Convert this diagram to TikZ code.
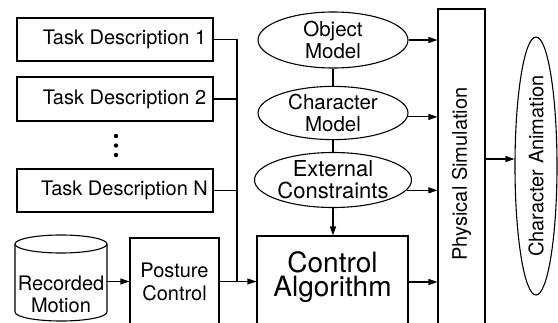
\documentclass[tikz,border=0pt]{standalone}
\usepackage{fontspec}
\setmainfont{TeX Gyre Heros}
\usetikzlibrary{arrows.meta,shapes.geometric}
\begin{document}
\begin{tikzpicture}[x=1pt,y=-1pt,line width=1.1pt,
  txt/.style={inner sep=0pt,align=center,font=\fontsize{20}{22}\selectfont},
  box/.style={draw,rectangle,inner sep=0pt,align=center,font=\fontsize{20}{22}\selectfont},
  oval/.style={draw,ellipse,inner sep=0pt,minimum width=150pt,minimum height=55pt,align=center,font=\fontsize{20.5}{22}\selectfont},
  arr/.style={-{Triangle[length=9pt,width=6pt]}}]
\useasboundingbox (0,0) rectangle (558,322);
\clip (0,0) rectangle (558,322);
% task descriptions
\node[box,minimum width=196pt,minimum height=43pt] (td1) at (115,39.5) {\hspace*{19pt}Task Description 1};
\node[box,minimum width=196pt,minimum height=44pt] (td2) at (115,99) {\hspace*{19pt}Task Description 2};
\node[box,minimum width=196pt,minimum height=43pt] (tdn) at (115,190.5) {\hspace*{19pt}Task Description N};
\fill (116,136) circle[radius=2.2pt] (116,145.5) circle[radius=2.2pt] (116,155) circle[radius=2.2pt];
% recorded motion cylinder
\draw (61,244) ellipse[x radius=46pt,y radius=9pt];
\draw (15,244) -- (15,312) arc[start angle=180,end angle=360,x radius=46pt,y radius=9pt] -- (107,244);
\node[txt] (rec) at (61,294) {Recorded\\Motion};
\coordinate (recE) at (107,281.5);
% posture control
\node[box,minimum width=89pt,minimum height=87pt,font=\fontsize{20}{23}\selectfont] (post) at (174.5,281.5) {Posture\\Control};
% control algorithm
\node[box,minimum width=151pt,minimum height=92pt] (ca) at (332.5,282) {};
\node[txt,font=\fontsize{28}{24}\selectfont] (catext) at ([yshift=5pt]ca.center) {Control\\Algorithm};
% ellipses
\node[oval,minimum height=56pt] (obj) at (333,40) {Object\\Model};
\node[oval,minimum height=53pt] (char) at (333,113) {Character\\Model};
\node[oval,font=\fontsize{22}{22}\selectfont] (ext) at (333,180) {External\\Constraints};
% physical simulation
\node[box,minimum width=47pt,minimum height=330pt] (ps) at (461.5,174) {\rotatebox{90}{Physical Simulation}};
% character animation
\node[draw,ellipse,inner sep=0pt,minimum width=42pt,minimum height=258pt,font=\fontsize{20}{22}\selectfont] (anim) at (536,166) {\rotatebox{90}{Character Animation}};
% bus
\coordinate (bus) at (237,281.5);
\draw (td1.east) -| (bus);
\draw (td2.east) -- (td2.east -| bus);
\draw (tdn.east) -- (tdn.east -| bus);
\draw[arr] (recE) -- (recE -| post.west);
\draw[arr] (post.east) -- (post.east -| ca.west);
% ellipse links
\draw (obj.south) -- (char.north);
\draw (char.south) -- (ext.north);
\draw[arr] (ext.south) -- (ext.south |- ca.north);
\draw[arr] (obj.east) -- (obj.east -| ps.west);
\draw[arr] (char.-3) -- (char.-3 -| ps.west);
\draw[arr] (ext.-8) -- (ext.-8 -| ps.west);
\draw[arr] (ca.east) -- (ca.east -| ps.west);
\draw[arr] (anim.162 -| ps.east) -- (anim.162);
\end{tikzpicture}
\end{document}
